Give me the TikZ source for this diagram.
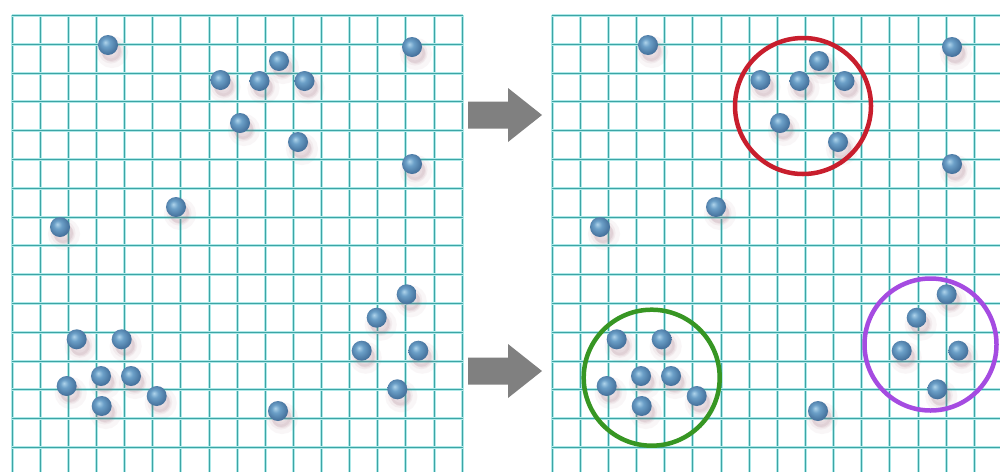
\documentclass[tikz,border=0pt]{standalone}
\definecolor{gridc}{RGB}{60,165,165}
\definecolor{gridhalo}{RGB}{175,232,232}
\definecolor{ballhi}{RGB}{175,212,235}
\definecolor{ballmid}{RGB}{108,160,200}
\definecolor{balldark}{RGB}{68,112,155}
\definecolor{shadowc}{RGB}{165,115,130}
\definecolor{arrowc}{RGB}{128,128,128}
\definecolor{redc}{RGB}{200,30,45}
\definecolor{greenc}{RGB}{55,150,35}
\definecolor{purplec}{RGB}{165,75,225}
\pgfdeclareradialshading{ballshade}{\pgfpoint{-7bp}{7bp}}{color(0bp)=(ballhi); color(10bp)=(ballmid); color(27bp)=(balldark); color(50bp)=(balldark)}
\tikzset{
  gridline/.style={draw=gridc, line width=1.3pt,
    preaction={draw=gridhalo, line width=3.6pt}},
  ball/.style={circle, inner sep=0pt, minimum size=20pt, shading=ballshade,
    preaction={fill=shadowc, fill opacity=0.10, draw=shadowc, draw opacity=0.06, line width=12pt,
      transform canvas={shift={(4pt,-7pt)}}},
    preaction={fill=shadowc, fill opacity=0.12, draw=shadowc, draw opacity=0.08, line width=5pt,
      transform canvas={shift={(3pt,-6pt)}}}},
  cluster/.style={circle, inner sep=0pt, line width=4.5pt},
  blockarrow/.style={fill=arrowc}
}
\begin{document}
\begin{tikzpicture}[x=1pt, y=-1pt]
\useasboundingbox (0,0) rectangle (1000,472);
\fill[white] (0,0) rectangle (1000,472);
% left grid
\foreach \k in {0,...,16} \draw[gridline] ({round(11.7+\k*28.125)+0.5},15) -- ({round(11.7+\k*28.125)+0.5},472);
\foreach \j in {0,...,15} \draw[gridline] (11.7,{round(15+\j*28.8)+0.5}) -- (462.7,{round(15+\j*28.8)+0.5});
% right grid
\foreach \k in {0,...,15} \draw[gridline] ({round(551.7+\k*28.15)+0.5},15) -- ({round(551.7+\k*28.15)+0.5},472);
\foreach \j in {0,...,15} \draw[gridline] (551.7,{round(15+\j*28.8)+0.5}) -- (1000,{round(15+\j*28.8)+0.5});
% balls
\foreach \bx/\by [count=\i] in {108/45, 412/47, 220.5/80, 259.5/81, 279/61, 304.5/81, 240/123, 298/142,
  412/164, 176/207, 60/227, 406.7/294.3, 376.7/317.7, 361.7/350.7, 418.3/350.7, 397.3/389.3,
  76.7/339.3, 121.7/339.3, 101/376, 131/376, 66.7/386, 101.7/406, 156.7/396, 278/411}{
  \node[ball] (l\i) at (\bx,\by) {};
  \node[ball] (r\i) at ({\bx+540},\by) {};
}
% arrows
\fill[blockarrow] (468,101.5) -- (508,101.5) -- (508,88) -- (542,115) -- (508,142) -- (508,128.5) -- (468,128.5) -- cycle;
\fill[blockarrow] (468,357.5) -- (508,357.5) -- (508,344) -- (542,371) -- (508,398) -- (508,384.5) -- (468,384.5) -- cycle;
% clusters
\node[cluster, draw=redc, minimum size=136pt] (redcl) at (803,106) {};
\node[cluster, draw=purplec, minimum size=132pt] (purplecl) at (930.5,344.5) {};
\node[cluster, draw=greenc, minimum size=136pt] (greencl) at (651.7,377.7) {};
\end{tikzpicture}
\end{document}
